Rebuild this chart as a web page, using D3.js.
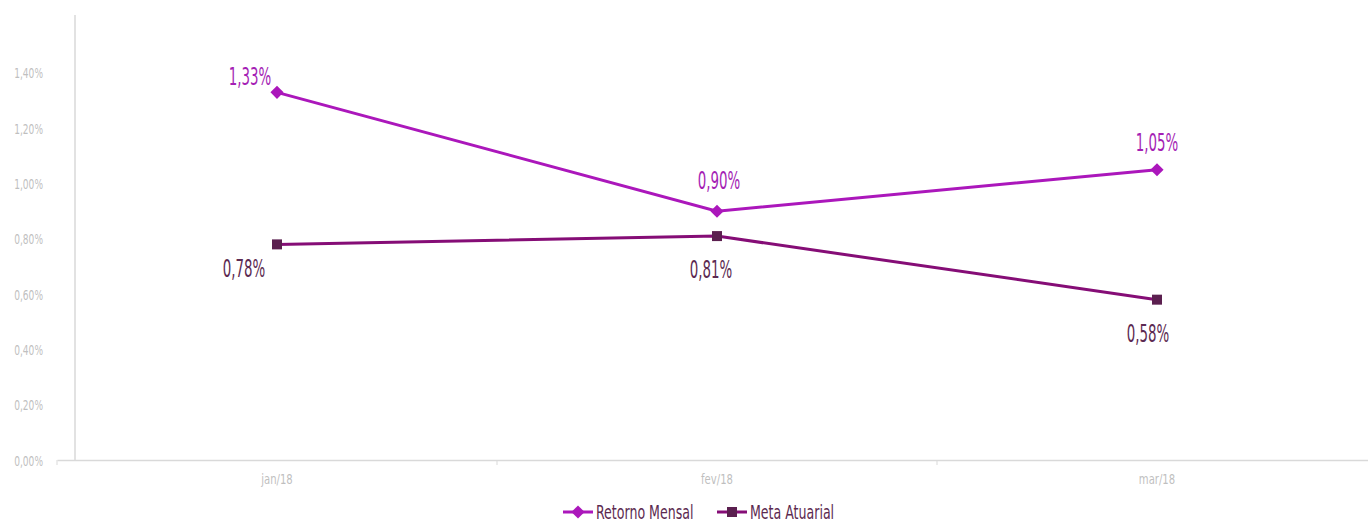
<!DOCTYPE html>
<html><head><meta charset="utf-8">
<script src="https://cdn.jsdelivr.net/npm/d3@7/dist/d3.min.js"></script>
<style>
body{margin:0;background:#fff;}
text{font-family:"DejaVu Sans Condensed","DejaVu Sans",sans-serif;font-stretch:condensed;}
</style></head><body>
<svg id="c" width="1368" height="520"></svg>
<script>
const categories = ["jan/18","fev/18","mar/18"];
const retornoMensal = [1.33, 0.90, 1.05];
const metaAtuarial = [0.78, 0.81, 0.58];
const yTicks = [0,0.2,0.4,0.6,0.8,1.0,1.2,1.4];
const seriesNames = ["Retorno Mensal","Meta Atuarial"];

const svg = d3.select("#c");
const axisLeft = 75, plotRight = 1377, bandLeft = 57;
const x = d3.scaleBand().domain(categories).range([bandLeft, plotRight]);
const y = d3.scaleLinear().domain([0,1.6]).range([460, 17.7]);
const cx = c => x(c) + x.bandwidth()/2;
const fmt = v => d3.format(".2f")(v).replace(".",",") + "%";

const axisCol = "#d9d9d9", tickCol = "#bfbfbf";
const colR = "#ab17bb", colRLabel = "#a51fb5";
const colM = "#850d76", colMMark = "#5b1f4f", colMLabel = "#5d2b52";

function txt(g, px, py, s, fs, sx, anchor, fill){
  return g.append("text").attr("transform",`translate(${px},${py}) scale(${sx},1)`)
    .attr("text-anchor",anchor).attr("font-size",fs).attr("fill",fill).text(s);
}

// y axis line
svg.append("line").attr("x1",axisLeft).attr("x2",axisLeft).attr("y1",15).attr("y2",y(0))
  .attr("stroke",axisCol).attr("stroke-width",1.5);
// x axis
const xAxis = d3.axisBottom(x).tickSize(0).tickFormat(d=>d);
const gx = svg.append("g").attr("transform",`translate(0,${y(0)})`).call(xAxis);
gx.select(".domain").attr("stroke",axisCol).attr("stroke-width",1.5);
gx.selectAll("text").attr("fill",tickCol).attr("font-size",14).attr("y",0).attr("dy",0)
  .attr("transform","translate(0,24) scale(0.8,1)");
// category boundary ticks
svg.selectAll(".bt").data(categories).enter().append("line")
  .attr("x1",d=>x(d)).attr("x2",d=>x(d)).attr("y1",y(0)).attr("y2",y(0)+5)
  .attr("stroke",axisCol).attr("stroke-width",1);
// y tick labels
const yAxis = d3.axisLeft(y).tickValues(yTicks).tickSize(0).tickFormat(fmt);
const gy = svg.append("g").attr("transform",`translate(${axisLeft-32},0)`).call(yAxis);
gy.select(".domain").remove();
gy.selectAll("text").attr("fill",tickCol).attr("font-size",14).attr("x",0).attr("dy",0)
  .attr("transform","translate(0,5) scale(0.72,1)");

// lines
const line = d3.line().x((d,i)=>cx(categories[i])).y(d=>y(d));
svg.append("path").datum(retornoMensal).attr("d",line).attr("fill","none")
  .attr("stroke",colR).attr("stroke-width",3);
svg.append("path").datum(metaAtuarial).attr("d",line).attr("fill","none")
  .attr("stroke",colM).attr("stroke-width",3);

// markers
const diamond = d3.symbol().type(d3.symbolDiamond2).size(110);
const square = d3.symbol().type(d3.symbolSquare).size(100);
svg.selectAll(".mr").data(retornoMensal).enter().append("path")
  .attr("d",diamond).attr("fill",colR)
  .attr("transform",(d,i)=>`translate(${cx(categories[i])},${y(d)})`);
svg.selectAll(".mm").data(metaAtuarial).enter().append("path")
  .attr("d",square).attr("fill",colMMark)
  .attr("transform",(d,i)=>`translate(${cx(categories[i])},${y(d)})`);

// data labels (placement nudges, not data)
const nudgeR = [[-27,-7],[2,-22],[0,-19]];
const nudgeM = [[-33,33],[-6,42],[-9,42]];
retornoMensal.forEach((d,i)=>txt(svg, cx(categories[i])+nudgeR[i][0], y(d)+nudgeR[i][1], fmt(d), 24, 0.62, "middle", colRLabel));
metaAtuarial.forEach((d,i)=>txt(svg, cx(categories[i])+nudgeM[i][0], y(d)+nudgeM[i][1], fmt(d), 24, 0.62, "middle", colMLabel));

// legend
const lg = svg.append("g").attr("transform","translate(0,512)");
const items = [{x:563,col:colR,mcol:colR,sym:diamond},{x:717,col:colM,mcol:colMMark,sym:square}];
items.forEach((it,i)=>{
  lg.append("line").attr("x1",it.x).attr("x2",it.x+30).attr("y1",0).attr("y2",0)
    .attr("stroke",it.col).attr("stroke-width",3);
  lg.append("path").attr("d",it.sym).attr("fill",it.mcol)
    .attr("transform",`translate(${it.x+15},0)`);
  txt(lg, it.x+33, 7, seriesNames[i], 20, 0.7, "start", "#5c2a50");
});
</script></body></html>
